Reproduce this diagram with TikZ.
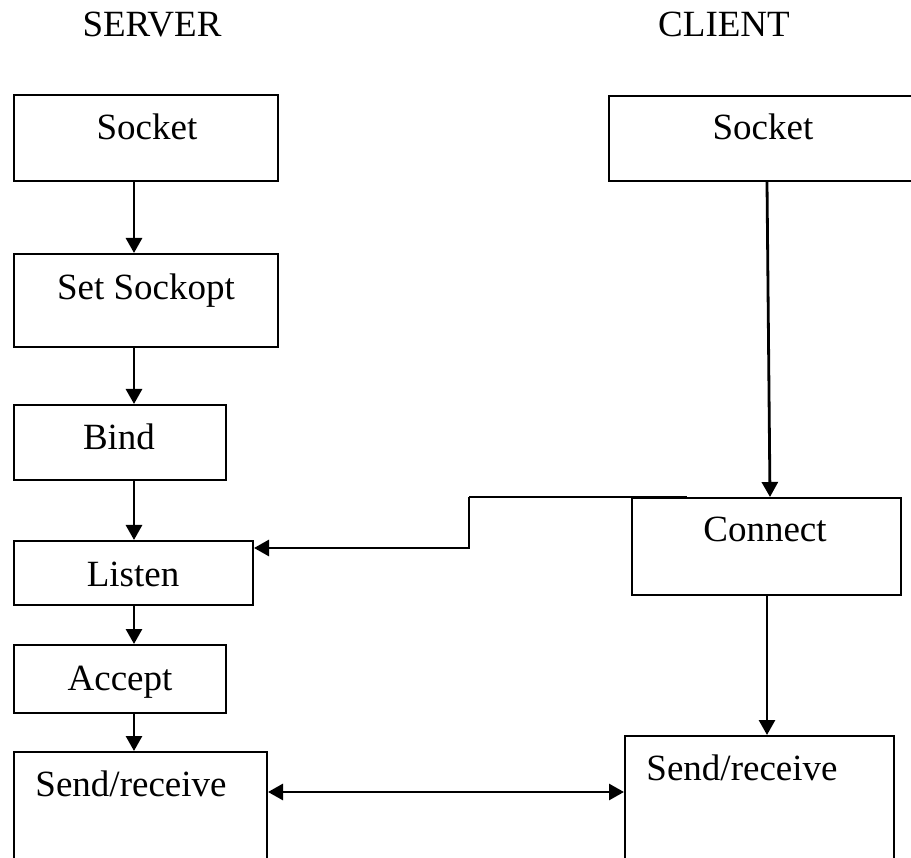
\documentclass[tikz,border=0pt]{standalone}
\usepackage{fontspec}
\setmainfont{Liberation Serif}
\usetikzlibrary{arrows.meta}

\tikzset{
  stagebox/.style={draw, line width=2pt, rectangle, inner sep=0pt, anchor=north west},
  label/.style={font=\fontsize{37}{44}\selectfont, inner sep=0pt, anchor=base},
  flow/.style={line width=2.8pt, -{Triangle[width=16pt,length=15pt]}},
  link/.style={line width=2.8pt},
  twoway/.style={line width=2.8pt, {Triangle[width=16pt,length=15pt]}-{Triangle[width=16pt,length=15pt]}}
}

\begin{document}
\begin{tikzpicture}[x=1pt, y=-1pt]
  \useasboundingbox (0,0) rectangle (911,858);
  \clip (0,0) rectangle (911,858);

  % column headings
  \node[label] (hserver) at (152,37) {SERVER};
  \node[label] (hclient) at (724,37) {CLIENT};

  % server side boxes
  \node[stagebox, minimum width=264pt, minimum height=86pt] (ssock)   at (13,94)  {};
  \node[stagebox, minimum width=264pt, minimum height=93pt] (sopt)    at (13,253) {};
  \node[stagebox, minimum width=212pt, minimum height=75pt] (bind)    at (13,404) {};
  \node[stagebox, minimum width=239pt, minimum height=64pt] (listen)  at (13,540) {};
  \node[stagebox, minimum width=212pt, minimum height=68pt] (accept)  at (13,644) {};
  \node[stagebox, minimum width=253pt, minimum height=130pt] (ssend)  at (13,751) {};

  % client side boxes
  \node[stagebox, minimum width=320pt, minimum height=85pt] (csock)   at (608,95)  {};
  \node[stagebox, minimum width=269pt, minimum height=97pt] (connect) at (631,497) {};
  \node[stagebox, minimum width=269pt, minimum height=140pt] (csend)  at (624,735) {};

  % box captions
  \node[label] (tssock)   at (147,140) {Socket};
  \node[label] (tsopt)    at (146,300) {Set Sockopt};
  \node[label] (tbind)    at (119,450) {Bind};
  \node[label] (tlisten)  at (133,586) {Listen};
  \node[label] (taccept)  at (120,690) {Accept};
  \node[label] (tssend)   at (131,796) {Send/receive};
  \node[label] (tcsock)   at (763,140) {Socket};
  \node[label] (tconnect) at (765,542) {Connect};
  \node[label] (tcsend)   at (742,780) {Send/receive};

  % server flow
  \coordinate (scol) at (134,0);
  \draw[flow] (ssock.south -| scol)  -- (sopt.north -| scol);
  \draw[flow] (sopt.south -| scol)   -- (bind.north -| scol);
  \draw[flow] (bind.south -| scol)   -- (listen.north -| scol);
  \draw[flow] (listen.south -| scol) -- (accept.north -| scol);
  \draw[flow] (accept.south -| scol) -- (ssend.north -| scol);

  % client flow
  \coordinate (cctop) at (767,0);
  \coordinate (ccbot) at (770,0);
  \draw[flow] (csock.south -| cctop) -- (connect.north -| ccbot);
  \draw[flow] (connect.south -| cctop) -- (csend.north -| cctop);

  % connect request towards listen
  \coordinate (tap)  at (687,497);
  \coordinate (step) at (469,497);
  \coordinate (lrow) at (0,548);
  \draw[link] (tap) -- (step);
  \draw[flow] (step) |- (listen.east |- lrow);

  % data exchange
  \coordinate (drow) at (0,792);
  \draw[twoway] (ssend.east |- drow) -- (csend.west |- drow);
\end{tikzpicture}
\end{document}
